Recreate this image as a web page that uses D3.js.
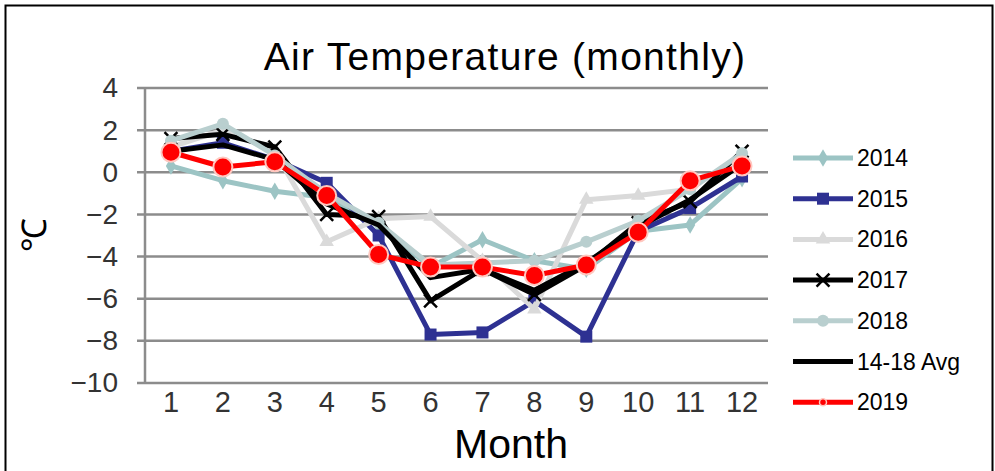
<!DOCTYPE html>
<html>
<head>
<meta charset="utf-8">
<script src="https://cdn.jsdelivr.net/npm/d3@7"></script>
<style>
  body { margin: 0; background: #fff; }
  text { font-family: "Liberation Sans", Arial, sans-serif; }
</style>
</head>
<body>
<div class="chart"></div>
<script>
const months = [1, 2, 3, 4, 5, 6, 7, 8, 9, 10, 11, 12];
const yTicks = [4, 2, 0, -2, -4, -6, -8, -10];

const t2014 = [0.3, -0.4, -0.9, -1.2, -2.5, -4.5, -3.2, -4.2, -4.6, -2.8, -2.5, -0.3];
const t2015 = [1.0, 1.4, 0.6, -0.5, -3.0, -7.7, -7.6, -6.1, -7.8, -2.8, -1.7, -0.2];
const t2016 = [1.2, 2.0, 1.0, -3.3, -2.2, -2.1, -4.2, -6.5, -1.3, -1.1, -0.8, 0.8];
const t2017 = [1.6, 1.8, 1.2, -2.0, -2.1, -6.1, -4.6, -5.8, -4.4, -2.4, -1.4, 1.0];
const t2018 = [1.5, 2.3, 0.8, -1.0, -2.4, -4.4, -4.3, -4.2, -3.3, -2.3, -0.8, 0.9];
const tAvg = [1.0, 1.3, 0.6, -1.5, -2.5, -5.0, -4.6, -5.6, -4.3, -2.6, -1.3, 0.4];
const t2019 = [0.95, 0.25, 0.5, -1.1, -3.9, -4.5, -4.5, -4.9, -4.4, -2.85, -0.4, 0.3];

const series = [
  { name: "2014", values: t2014, color: "#9cc4c4", marker: "diamond" },
  { name: "2015", values: t2015, color: "#2e3192", marker: "square" },
  { name: "2016", values: t2016, color: "#dadada", marker: "triangle" },
  { name: "2017", values: t2017, color: "#000000", marker: "x" },
  { name: "2018", values: t2018, color: "#b9cfcf", marker: "circle" },
  { name: "14-18 Avg", values: tAvg, color: "#000000", marker: "none" },
  { name: "2019", values: t2019, color: "#ff0000", marker: "big" },
];

const W = 995, H = 471;
const margin = { top: 88, right: 227, bottom: 88, left: 145 };
const width = W - margin.left - margin.right;
const height = H - margin.top - margin.bottom;
const narrow = '"Liberation Sans Narrow", "Arial Narrow", "Liberation Sans", sans-serif';

const root = d3.select(".chart").append("svg").attr("width", W).attr("height", H);

root.append("rect")
  .attr("x", 5.5).attr("y", 5.5)
  .attr("width", W - 8).attr("height", H)
  .attr("fill", "none").attr("stroke", "#000").attr("stroke-width", 2);

root.append("text")
  .attr("x", 505).attr("y", 70)
  .attr("text-anchor", "middle")
  .style("font-size", "39px")
  .style("letter-spacing", "1.3px")
  .text("Air Temperature (monthly)");

const svg = root.append("g")
  .attr("transform", "translate(" + margin.left + "," + margin.top + ")");

const xScale = d3.scaleBand().domain(months).range([0, width]);
const yScale = d3.scaleLinear().domain([-10, 4]).range([height, 0]);
const xPos = (m) => xScale(m) + xScale.bandwidth() / 2;

// gridlines
svg.selectAll(".grid")
  .data(yTicks)
  .enter()
  .append("line")
  .attr("x1", -8)
  .attr("x2", width)
  .attr("y1", (d) => yScale(d))
  .attr("y2", (d) => yScale(d))
  .attr("stroke", "#8c8c8c")
  .attr("stroke-width", 2.5);

svg.append("line")
  .attr("x1", 0).attr("x2", 0)
  .attr("y1", 0).attr("y2", height)
  .attr("stroke", "#8c8c8c").attr("stroke-width", 2.5);

const yAxis = svg.append("g")
  .call(d3.axisLeft(yScale).tickValues(yTicks).tickSize(0).tickPadding(27)
    .tickFormat((d) => (d < 0 ? "\u2212" + Math.abs(d) : d)));
yAxis.select(".domain").remove();
yAxis.selectAll("text").style("font-size", "28px").style("font-family", narrow).attr("fill", "#333");

const xAxis = svg.append("g")
  .attr("transform", "translate(0," + height + ")")
  .call(d3.axisBottom(xScale).tickSize(0).tickPadding(8));
xAxis.select(".domain").remove();
xAxis.selectAll("text").style("font-size", "29px").style("font-family", narrow).attr("fill", "#333");

svg.append("text")
  .attr("x", 366).attr("y", height + 75)
  .attr("text-anchor", "middle")
  .style("font-size", "41px")
  .text("Month");

root.append("text")
  .attr("transform", "translate(46,235) rotate(-90)")
  .attr("text-anchor", "middle")
  .style("font-size", "34px")
  .text("\u2103");

const line = d3.line()
  .x((d, i) => xPos(months[i]))
  .y((d) => yScale(d));

function drawMarker(g, type, color, x, y) {
  if (type === "square") {
    g.append("rect").attr("x", x - 6).attr("y", y - 6).attr("width", 12).attr("height", 12).attr("fill", color);
  } else if (type === "diamond") {
    g.append("path").attr("d", d3.symbol(d3.symbolDiamond, 90)()).attr("transform", "translate(" + x + "," + y + ")").attr("fill", color);
  } else if (type === "triangle") {
    g.append("path").attr("d", d3.symbol(d3.symbolTriangle, 90)()).attr("transform", "translate(" + x + "," + y + ")").attr("fill", color);
  } else if (type === "circle") {
    g.append("circle").attr("cx", x).attr("cy", y).attr("r", 6).attr("fill", color);
  } else if (type === "x") {
    g.append("path").attr("d", d3.symbol(d3.symbolX, 110)()).attr("transform", "translate(" + x + "," + y + ")")
      .attr("stroke", color).attr("stroke-width", 2.5).attr("fill", "none");
  } else if (type === "big") {
    g.append("circle").attr("cx", x).attr("cy", y).attr("r", 9.5)
      .attr("fill", "#ff0000").attr("stroke", "#ffc8c0").attr("stroke-width", 2);
  }
}

series.forEach(function (s) {
  const g = svg.append("g");
  g.append("path")
    .datum(s.values)
    .attr("d", line)
    .attr("fill", "none")
    .attr("stroke", s.color)
    .attr("stroke-width", 5)
    .attr("stroke-linejoin", "round");
  s.values.forEach(function (v, i) {
    drawMarker(g, s.marker, s.color, xPos(months[i]), yScale(v));
  });
});

// legend
const legend = root.append("g").attr("transform", "translate(793,158)");
series.forEach(function (s, i) {
  const row = legend.append("g").attr("transform", "translate(0," + i * 40.7 + ")");
  row.append("line")
    .attr("x1", 0).attr("x2", 60)
    .attr("stroke", s.color).attr("stroke-width", 5);
  if (s.marker === "big") {
    row.append("circle").attr("cx", 30).attr("cy", 0).attr("r", 3.5)
      .attr("fill", "#ff0000").attr("stroke", "#ffc8c0").attr("stroke-width", 1.5);
  } else {
    drawMarker(row, s.marker, s.color, 30, 0);
  }
  row.append("text")
    .attr("x", 64).attr("y", 8)
    .style("font-size", "23px")
    .text(s.name);
});
</script>
</body>
</html>
